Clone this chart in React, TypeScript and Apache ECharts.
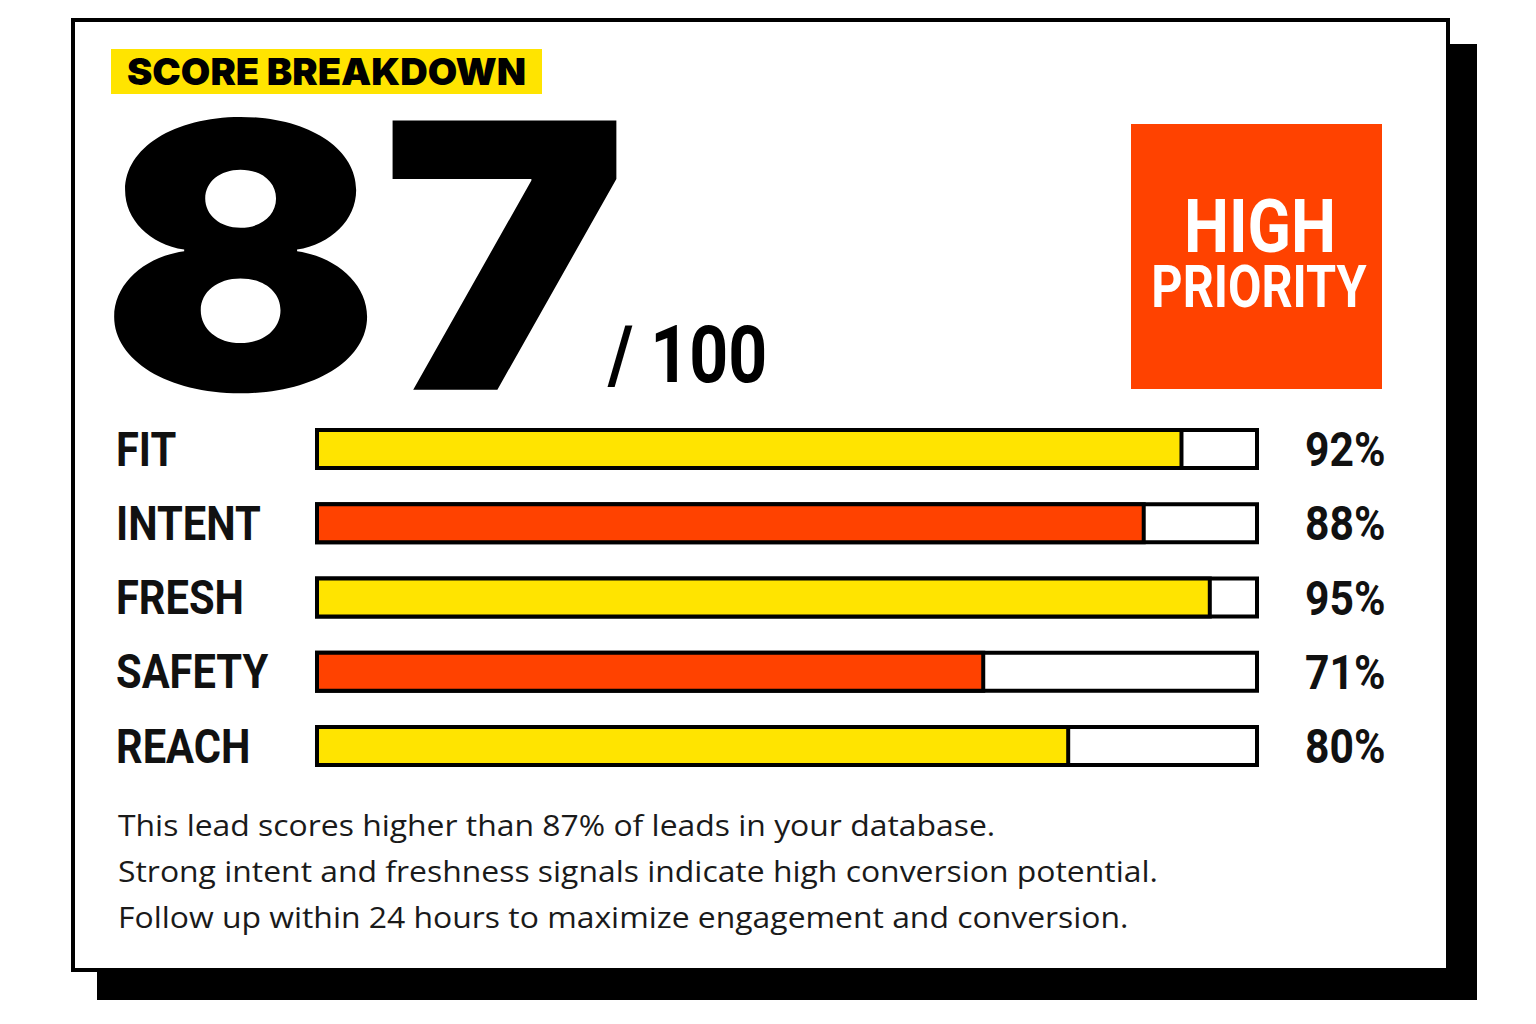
import React, { useEffect, useRef } from "react";
import * as echarts from "echarts";

const categories = ["FIT", "INTENT", "FRESH", "SAFETY", "REACH"];
const scores = [92, 88, 95, 71, 80];
const barColors = ["#FFE400", "#FF4200", "#FFE400", "#FF4200", "#FFE400"];
const totalScore = 87;
const maxScore = 100;
const headerLabel = "SCORE BREAKDOWN";
const priorityLines = ["HIGH", "PRIORITY"];
const notes = [
  "This lead scores higher than 87% of leads in your database.",
  "Strong intent and freshness signals indicate high conversion potential.",
  "Follow up within 24 hours to maximize engagement and conversion.",
];

const COND = "Roboto, 'Liberation Sans', sans-serif";
const HEAVY = "Inter, Roboto, 'DejaVu Sans', sans-serif";

export default function App() {
  const ref = useRef<HTMLDivElement>(null);
  useEffect(() => {
    if (!ref.current) return;
    const chart = echarts.init(ref.current, null, { renderer: "svg" });
    const baseGraphic: any[] = [
      { type: "rect", z: 0, shape: { x: 97, y: 44, width: 1380, height: 956 }, style: { fill: "#000" } },
      { type: "rect", z: 1, shape: { x: 73, y: 20, width: 1375, height: 950 }, style: { fill: "#fff", stroke: "#000", lineWidth: 4 } },
      { type: "rect", z: 2, shape: { x: 111, y: 49, width: 431, height: 45 }, style: { fill: "#FFE400" } },
      {
        type: "text", z: 3, x: 127, y: 72, scaleX: 1.03,
        style: { text: headerLabel, fill: "#000", font: `900 37px ${HEAVY}`, verticalAlign: "middle", align: "left" },
      },
      {
        type: "text", z: 3, x: 100, y: 255, scaleX: 1.12,
        style: { text: String(totalScore), fill: "#000", font: `900 370px ${HEAVY}`, verticalAlign: "middle", align: "left" },
      },
      {
        type: "text", z: 3, x: 608, y: 355, scaleX: 0.85,
        style: { text: "/ " + maxScore, fill: "#000", font: `bold 80px ${COND}`, verticalAlign: "middle", align: "left" },
      },
      { type: "rect", z: 2, shape: { x: 1131, y: 124, width: 251, height: 265 }, style: { fill: "#FF4200" } },
      {
        type: "text", z: 3, x: 1260, y: 226, scaleX: 0.85,
        style: { text: priorityLines[0], fill: "#fff", font: `bold 75px ${COND}`, verticalAlign: "middle", align: "center" },
      },
      {
        type: "text", z: 3, x: 1259, y: 286, scaleX: 0.81,
        style: { text: priorityLines[1], fill: "#fff", font: `bold 60px ${COND}`, verticalAlign: "middle", align: "center" },
      },
      ...notes.map((t, i) => ({
        type: "text", z: 3, x: 118, y: 825 + i * 46, scaleX: 1.1,
        style: { text: t, fill: "#1a1a1a", font: `29px 'Open Sans', Roboto, sans-serif`, verticalAlign: "middle", align: "left" },
      })),
    ];
    const option: any = {
      animation: false,
      backgroundColor: "#ffffff",
      graphic: baseGraphic,
      grid: { left: 315, right: 277, top: 412, height: 371, containLabel: false },
      xAxis: { type: "value", min: 0, max: 100, show: false },
      yAxis: [
        {
          type: "category", data: categories, inverse: true,
          axisLine: { show: false }, axisTick: { show: false }, splitLine: { show: false },
          axisLabel: { show: false },
        },
        {
          type: "category", data: scores.map((v) => v + "%"), inverse: true, position: "right",
          axisLine: { show: false }, axisTick: { show: false }, splitLine: { show: false },
          axisLabel: { show: false },
        },
      ],
      series: [
        {
          type: "bar", name: "track", data: categories.map(() => maxScore), barWidth: 42, silent: true, z: 3,
          itemStyle: { color: "#fff", borderColor: "#000", borderWidth: 4 },
        },
        {
          type: "bar", name: "score", barGap: "-100%", barWidth: 42, silent: true, z: 4,
          data: scores.map((v, i) => ({ value: v, itemStyle: { color: barColors[i] } })),
          itemStyle: { borderColor: "#000", borderWidth: 4 },
        },
      ],
    };
    chart.setOption(option);
    const labelFont = `bold 49px ${COND}`;
    const labelEls: any[] = [];
    categories.forEach((c, i) => {
      const y = chart.convertToPixel({ yAxisIndex: 0 }, i) as number;
      labelEls.push({
        type: "text", z: 5, x: 116, y, scaleX: 0.85,
        style: { text: c, fill: "#111", font: labelFont, verticalAlign: "middle", align: "left" },
      });
      labelEls.push({
        type: "text", z: 5, x: 1305, y, scaleX: 0.87,
        style: { text: scores[i] + "%", fill: "#111", font: labelFont, verticalAlign: "middle", align: "left" },
      });
    });
    chart.setOption({ graphic: [...baseGraphic, ...labelEls] });
    return () => chart.dispose();
  }, []);
  return <div ref={ref} style={{ position: "fixed", left: 0, top: 0, width: 1536, height: 1024 }} />;
}
